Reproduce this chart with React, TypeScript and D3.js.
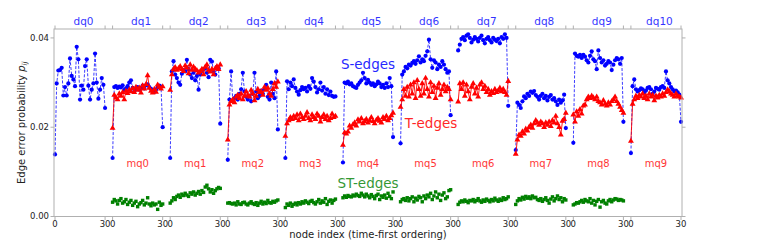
import React from 'react';
import * as d3 from 'd3';

const dqLabels = ['dq0', 'dq1', 'dq2', 'dq3', 'dq4', 'dq5', 'dq6', 'dq7', 'dq8', 'dq9', 'dq10'];
const mqLabels = ['mq0', 'mq1', 'mq2', 'mq3', 'mq4', 'mq5', 'mq6', 'mq7', 'mq8', 'mq9'];
const yTicks = [0, 0.02, 0.04];
const yTickLabels = ['0.00', '0.02', '0.04'];
const segStartLabel = '0';
const segEndLabel = '30';
const SEG_LEN = 30;
const SEG_PERIOD = 34.5;
const T_FIRST_SEG = 1;
const ST_FIRST_SEG = 1;

// S-edges (blue), one array per dq segment
const sEdges: number[][] = [
  [0.0139, 0.0298, 0.0327, 0.0328, 0.0333, 0.0271, 0.0290, 0.0271, 0.0298, 0.0354, 0.0315, 0.0307, 0.0292, 0.0380, 0.0352, 0.0262, 0.0293, 0.0284, 0.0337, 0.0352, 0.0293, 0.0262, 0.0284, 0.0298, 0.0365, 0.0300, 0.0264, 0.0284, 0.0310, 0.0295, 0.0243],
  [0.0131, 0.0290, 0.0292, 0.0288, 0.0291, 0.0289, 0.0294, 0.0283, 0.0287, 0.0292, 0.0300, 0.0305, 0.0288, 0.0280, 0.0285, 0.0290, 0.0284, 0.0288, 0.0293, 0.0287, 0.0294, 0.0296, 0.0290, 0.0286, 0.0282, 0.0279, 0.0284, 0.0289, 0.0293, 0.0291, 0.0200],
  [0.0131, 0.0325, 0.0348, 0.0318, 0.0310, 0.0300, 0.0295, 0.0320, 0.0328, 0.0325, 0.0351, 0.0330, 0.0318, 0.0310, 0.0322, 0.0305, 0.0315, 0.0284, 0.0318, 0.0326, 0.0330, 0.0332, 0.0322, 0.0312, 0.0351, 0.0347, 0.0325, 0.0318, 0.0335, 0.0332, 0.0208],
  [0.0127, 0.0262, 0.0325, 0.0259, 0.0265, 0.0270, 0.0262, 0.0275, 0.0285, 0.0322, 0.0280, 0.0268, 0.0262, 0.0270, 0.0258, 0.0275, 0.0322, 0.0280, 0.0265, 0.0270, 0.0282, 0.0275, 0.0285, 0.0295, 0.0268, 0.0262, 0.0300, 0.0275, 0.0265, 0.0325, 0.0195],
  [0.0131, 0.0303, 0.0285, 0.0300, 0.0292, 0.0307, 0.0288, 0.0280, 0.0273, 0.0283, 0.0290, 0.0285, 0.0288, 0.0280, 0.0292, 0.0286, 0.0310, 0.0302, 0.0290, 0.0278, 0.0285, 0.0300, 0.0282, 0.0290, 0.0275, 0.0285, 0.0272, 0.0280, 0.0270, 0.0268, 0.0269],
  [0.0121, 0.0300, 0.0298, 0.0302, 0.0296, 0.0298, 0.0292, 0.0290, 0.0288, 0.0295, 0.0300, 0.0305, 0.0322, 0.0310, 0.0298, 0.0306, 0.0300, 0.0295, 0.0298, 0.0292, 0.0296, 0.0302, 0.0298, 0.0290, 0.0295, 0.0288, 0.0298, 0.0290, 0.0310, 0.0292, 0.0178],
  [0.0164, 0.0318, 0.0325, 0.0335, 0.0332, 0.0340, 0.0338, 0.0344, 0.0348, 0.0342, 0.0350, 0.0359, 0.0345, 0.0352, 0.0348, 0.0360, 0.0370, 0.0396, 0.0352, 0.0333, 0.0350, 0.0345, 0.0330, 0.0340, 0.0335, 0.0348, 0.0340, 0.0330, 0.0322, 0.0325, 0.0227],
  [0.0372, 0.0385, 0.0398, 0.0402, 0.0395, 0.0405, 0.0408, 0.0400, 0.0390, 0.0396, 0.0402, 0.0398, 0.0392, 0.0400, 0.0405, 0.0395, 0.0388, 0.0398, 0.0402, 0.0395, 0.0390, 0.0400, 0.0396, 0.0393, 0.0398, 0.0388, 0.0402, 0.0398, 0.0408, 0.0400, 0.0248],
  [0.0149, 0.0255, 0.0250, 0.0243, 0.0258, 0.0269, 0.0265, 0.0275, 0.0270, 0.0280, 0.0277, 0.0281, 0.0272, 0.0268, 0.0262, 0.0270, 0.0275, 0.0265, 0.0270, 0.0260, 0.0268, 0.0272, 0.0262, 0.0265, 0.0258, 0.0250, 0.0262, 0.0255, 0.0260, 0.0273, 0.0198],
  [0.0165, 0.0365, 0.0360, 0.0358, 0.0362, 0.0355, 0.0362, 0.0358, 0.0350, 0.0345, 0.0360, 0.0370, 0.0352, 0.0348, 0.0330, 0.0372, 0.0355, 0.0345, 0.0350, 0.0338, 0.0342, 0.0348, 0.0345, 0.0328, 0.0340, 0.0350, 0.0355, 0.0352, 0.0342, 0.0355, 0.0212],
  [0.0142, 0.0292, 0.0307, 0.0285, 0.0280, 0.0283, 0.0287, 0.0285, 0.0278, 0.0282, 0.0288, 0.0290, 0.0285, 0.0275, 0.0280, 0.0288, 0.0286, 0.0284, 0.0290, 0.0292, 0.0288, 0.0325, 0.0305, 0.0298, 0.0290, 0.0285, 0.0280, 0.0282, 0.0278, 0.0273, 0.0212],
];

// T-edges (red), mq0..mq9 drawn in segments 1..10
const tEdges: number[][] = [
  [0.0198, 0.0272, 0.0266, 0.0262, 0.0275, 0.0270, 0.0278, 0.0262, 0.0281, 0.0276, 0.0284, 0.0280, 0.0287, 0.0278, 0.0290, 0.0283, 0.0288, 0.0277, 0.0293, 0.0286, 0.0296, 0.0316, 0.0288, 0.0281, 0.0277, 0.0285, 0.0279, 0.0295, 0.0290, 0.0286, 0.0291],
  [0.0283, 0.0318, 0.0330, 0.0334, 0.0328, 0.0332, 0.0336, 0.0330, 0.0325, 0.0338, 0.0333, 0.0320, 0.0340, 0.0328, 0.0335, 0.0330, 0.0327, 0.0322, 0.0325, 0.0330, 0.0318, 0.0335, 0.0340, 0.0328, 0.0324, 0.0330, 0.0318, 0.0332, 0.0336, 0.0330, 0.0340],
  [0.0172, 0.0250, 0.0258, 0.0262, 0.0255, 0.0268, 0.0272, 0.0265, 0.0275, 0.0262, 0.0270, 0.0280, 0.0272, 0.0268, 0.0283, 0.0275, 0.0260, 0.0270, 0.0285, 0.0278, 0.0280, 0.0272, 0.0290, 0.0283, 0.0288, 0.0275, 0.0270, 0.0285, 0.0298, 0.0290, 0.0302],
  [0.0180, 0.0208, 0.0215, 0.0222, 0.0218, 0.0225, 0.0220, 0.0228, 0.0215, 0.0230, 0.0222, 0.0218, 0.0225, 0.0233, 0.0220, 0.0215, 0.0228, 0.0222, 0.0218, 0.0230, 0.0225, 0.0212, 0.0222, 0.0228, 0.0218, 0.0225, 0.0215, 0.0220, 0.0230, 0.0222, 0.0225],
  [0.0160, 0.0188, 0.0185, 0.0190, 0.0203, 0.0198, 0.0206, 0.0210, 0.0203, 0.0217, 0.0212, 0.0220, 0.0208, 0.0213, 0.0218, 0.0210, 0.0215, 0.0222, 0.0213, 0.0208, 0.0216, 0.0220, 0.0214, 0.0210, 0.0222, 0.0218, 0.0225, 0.0215, 0.0220, 0.0226, 0.0232],
  [0.0245, 0.0262, 0.0285, 0.0270, 0.0290, 0.0268, 0.0295, 0.0275, 0.0300, 0.0265, 0.0305, 0.0285, 0.0270, 0.0298, 0.0275, 0.0310, 0.0285, 0.0268, 0.0300, 0.0278, 0.0292, 0.0265, 0.0288, 0.0298, 0.0272, 0.0285, 0.0295, 0.0280, 0.0290, 0.0285, 0.0262],
  [0.0257, 0.0298, 0.0285, 0.0300, 0.0270, 0.0295, 0.0280, 0.0262, 0.0290, 0.0298, 0.0275, 0.0288, 0.0268, 0.0295, 0.0300, 0.0285, 0.0292, 0.0278, 0.0285, 0.0272, 0.0280, 0.0276, 0.0285, 0.0278, 0.0282, 0.0288, 0.0280, 0.0285, 0.0278, 0.0272, 0.0303],
  [0.0140, 0.0172, 0.0183, 0.0180, 0.0190, 0.0185, 0.0196, 0.0192, 0.0200, 0.0205, 0.0198, 0.0208, 0.0215, 0.0210, 0.0205, 0.0212, 0.0208, 0.0200, 0.0210, 0.0205, 0.0212, 0.0202, 0.0215, 0.0210, 0.0225, 0.0208, 0.0200, 0.0183, 0.0214, 0.0218, 0.0232],
  [0.0228, 0.0212, 0.0235, 0.0225, 0.0240, 0.0230, 0.0248, 0.0250, 0.0262, 0.0268, 0.0265, 0.0270, 0.0266, 0.0262, 0.0268, 0.0258, 0.0255, 0.0250, 0.0260, 0.0252, 0.0248, 0.0255, 0.0250, 0.0258, 0.0262, 0.0268, 0.0258, 0.0252, 0.0245, 0.0238, 0.0232],
  [0.0169, 0.0252, 0.0262, 0.0270, 0.0265, 0.0272, 0.0268, 0.0275, 0.0265, 0.0270, 0.0262, 0.0275, 0.0268, 0.0272, 0.0260, 0.0270, 0.0266, 0.0272, 0.0268, 0.0275, 0.0270, 0.0278, 0.0284, 0.0280, 0.0275, 0.0272, 0.0268, 0.0275, 0.0270, 0.0268, 0.0266],
];

// ST-edges (green), drawn in segments 1..9
const stEdges: number[][] = [
  [0.0032, 0.0038, 0.0035, 0.0028, 0.0036, 0.0040, 0.0030, 0.0033, 0.0038, 0.0027, 0.0032, 0.0036, 0.0025, 0.0030, 0.0034, 0.0022, 0.0028, 0.0031, 0.0036, 0.0026, 0.0030, 0.0042, 0.0028, 0.0024, 0.0030, 0.0026, 0.0028, 0.0016, 0.0032, 0.0025, 0.0028],
  [0.0030, 0.0035, 0.0042, 0.0038, 0.0045, 0.0048, 0.0043, 0.0050, 0.0047, 0.0052, 0.0048, 0.0045, 0.0053, 0.0050, 0.0055, 0.0048, 0.0052, 0.0056, 0.0050, 0.0058, 0.0054, 0.0066, 0.0070, 0.0062, 0.0055, 0.0060, 0.0052, 0.0058, 0.0062, 0.0065, 0.0063],
  [0.0030, 0.0031, 0.0029, 0.0028, 0.0030, 0.0026, 0.0033, 0.0028, 0.0027, 0.0031, 0.0032, 0.0028, 0.0026, 0.0030, 0.0033, 0.0029, 0.0027, 0.0031, 0.0025, 0.0030, 0.0034, 0.0028, 0.0032, 0.0029, 0.0036, 0.0031, 0.0030, 0.0034, 0.0032, 0.0035, 0.0037],
  [0.0020, 0.0028, 0.0025, 0.0030, 0.0023, 0.0027, 0.0030, 0.0026, 0.0031, 0.0028, 0.0033, 0.0030, 0.0035, 0.0032, 0.0029, 0.0034, 0.0036, 0.0031, 0.0028, 0.0033, 0.0038, 0.0030, 0.0035, 0.0032, 0.0040, 0.0027, 0.0034, 0.0037, 0.0030, 0.0036, 0.0039],
  [0.0042, 0.0046, 0.0043, 0.0047, 0.0045, 0.0044, 0.0048, 0.0046, 0.0050, 0.0047, 0.0045, 0.0052, 0.0048, 0.0044, 0.0050, 0.0046, 0.0042, 0.0049, 0.0045, 0.0040, 0.0047, 0.0050, 0.0038, 0.0046, 0.0043, 0.0048, 0.0041, 0.0052, 0.0045, 0.0040, 0.0055],
  [0.0033, 0.0038, 0.0040, 0.0036, 0.0042, 0.0035, 0.0040, 0.0044, 0.0033, 0.0041, 0.0037, 0.0045, 0.0042, 0.0033, 0.0046, 0.0040, 0.0048, 0.0044, 0.0052, 0.0038, 0.0046, 0.0055, 0.0042, 0.0050, 0.0036, 0.0048, 0.0053, 0.0040, 0.0044, 0.0058, 0.0060],
  [0.0027, 0.0032, 0.0035, 0.0033, 0.0037, 0.0034, 0.0031, 0.0036, 0.0035, 0.0038, 0.0033, 0.0036, 0.0040, 0.0035, 0.0032, 0.0037, 0.0034, 0.0039, 0.0036, 0.0033, 0.0038, 0.0035, 0.0041, 0.0037, 0.0034, 0.0039, 0.0036, 0.0042, 0.0038, 0.0040, 0.0044],
  [0.0027, 0.0035, 0.0040, 0.0037, 0.0043, 0.0039, 0.0045, 0.0041, 0.0044, 0.0040, 0.0046, 0.0042, 0.0043, 0.0038, 0.0036, 0.0040, 0.0034, 0.0038, 0.0042, 0.0036, 0.0030, 0.0039, 0.0044, 0.0035, 0.0040, 0.0046, 0.0038, 0.0042, 0.0033, 0.0040, 0.0037],
  [0.0026, 0.0028, 0.0031, 0.0030, 0.0033, 0.0036, 0.0032, 0.0038, 0.0035, 0.0033, 0.0040, 0.0030, 0.0036, 0.0026, 0.0034, 0.0038, 0.0021, 0.0033, 0.0036, 0.0030, 0.0028, 0.0035, 0.0038, 0.0033, 0.0037, 0.0040, 0.0039, 0.0036, 0.0038, 0.0037, 0.0035],
];

const BLUE = '#0000ff';
const RED = '#ff0000';
const GREEN = '#008000';
const SPINE = '#b0b0b0';
const FONT = 'DejaVu Sans, sans-serif';

export default function App() {
  const W = 763;
  const H = 242;
  const left = 54;
  const right = 682;
  const top = 29;
  const bottom = 216.5;
  const nSeg = dqLabels.length;
  const xMax = (nSeg - 1) * SEG_PERIOD + SEG_LEN;
  const x = d3.scaleLinear().domain([0, xMax]).range([left + 1, right - 1]);
  const y = d3.scaleLinear().domain([0, 0.042]).range([bottom, top]);

  const pts = (vals: number[], seg: number) =>
    vals.map((v, i) => [x(seg * SEG_PERIOD + (i * SEG_LEN) / (vals.length - 1)), y(v)] as [number, number]);
  const line = d3.line<[number, number]>().x((d) => d[0]).y((d) => d[1]);
  const tri = d3.symbol(d3.symbolTriangle, 15)() as string;

  const segStarts = d3.range(nSeg).map((k) => x(k * SEG_PERIOD));
  const segEnds = d3.range(nSeg).map((k) => x(k * SEG_PERIOD + SEG_LEN));
  const segCenters = d3.range(nSeg).map((k) => x(k * SEG_PERIOD + SEG_LEN / 2));

  return (
    <svg width={W} height={H} style={{ position: 'absolute', left: 0, top: 0, background: '#fff' }} fontFamily={FONT}>
      {/* blue S-edges */}
      {sEdges.map((vals, k) => {
        const p = pts(vals, k);
        return (
          <g key={'s' + k}>
            <path d={line(p) || ''} fill="none" stroke={BLUE} strokeWidth={0.9} strokeDasharray="3,1.6" opacity={0.85} />
            {p.map((d, i) => (
              <circle key={i} cx={d[0]} cy={d[1]} r={2.1} fill={BLUE} />
            ))}
          </g>
        );
      })}
      {/* red T-edges */}
      {tEdges.map((vals, j) => {
        const p = pts(vals, j + T_FIRST_SEG);
        return (
          <g key={'t' + j}>
            <path d={line(p) || ''} fill="none" stroke={RED} strokeWidth={0.9} />
            {p.map((d, i) => (
              <path key={i} d={tri} transform={`translate(${d[0]},${d[1]})`} fill={RED} />
            ))}
          </g>
        );
      })}
      {/* green ST-edges */}
      {stEdges.map((vals, j) => {
        const p = pts(vals, j + ST_FIRST_SEG);
        return (
          <g key={'st' + j}>
            {p.map((d, i) => (
              <rect key={i} x={d[0] - 1.7} y={d[1] - 1.7} width={3.4} height={3.4} fill={GREEN} />
            ))}
          </g>
        );
      })}

      {/* spines */}
      <rect x={left} y={top} width={right - left} height={bottom - top} fill="none" stroke={SPINE} strokeWidth={1} />

      {/* y ticks */}
      {yTicks.map((t, i) => (
        <g key={'yt' + i}>
          <line x1={left - 3.5} x2={left} y1={y(t)} y2={y(t)} stroke={SPINE} />
          <line x1={right} x2={right + 3.5} y1={y(t)} y2={y(t)} stroke={SPINE} />
          <text x={left - 5} y={y(t)} dy="0.35em" textAnchor="end" fontSize={8.5} fill="#222">
            {yTickLabels[i]}
          </text>
        </g>
      ))}

      {/* x ticks top and bottom at segment starts/ends */}
      {segStarts.map((sx, k) => (
        <g key={'xs' + k}>
          <line x1={sx} x2={sx} y1={bottom} y2={bottom + 3.5} stroke={SPINE} />
          <line x1={sx} x2={sx} y1={top - 3.5} y2={top} stroke={SPINE} />
          <text x={sx} y={226.5} textAnchor="middle" fontSize={8.5} fill="#222">
            {segStartLabel}
          </text>
        </g>
      ))}
      {segEnds.map((ex, k) => (
        <g key={'xe' + k}>
          <line x1={ex} x2={ex} y1={bottom} y2={bottom + 3.5} stroke={SPINE} />
          <line x1={ex} x2={ex} y1={top - 3.5} y2={top} stroke={SPINE} />
          <text x={ex} y={226.5} textAnchor="middle" fontSize={8.5} fill="#222">
            {segEndLabel}
          </text>
        </g>
      ))}

      {/* dq labels */}
      {dqLabels.map((lab, k) => (
        <text key={lab} x={segCenters[k] + 3.5} y={25} textAnchor="middle" fontSize={10.5} fill={BLUE} opacity={0.8}>
          {lab}
        </text>
      ))}
      {/* mq labels */}
      {mqLabels.map((lab, j) => (
        <text key={lab} x={segCenters[j + T_FIRST_SEG]} y={166.5} textAnchor="middle" fontSize={10} fill={RED} opacity={0.8}>
          {lab}
        </text>
      ))}

      {/* series labels */}
      <text x={368} y={69} textAnchor="middle" fontSize={13.5} fill={BLUE} opacity={0.85}>S-edges</text>
      <text x={431} y={127.5} textAnchor="middle" fontSize={13.5} fill={RED} opacity={0.85}>T-edges</text>
      <text x={368} y={188} textAnchor="middle" fontSize={13.5} fill={GREEN} opacity={0.8}>ST-edges</text>

      {/* axis labels */}
      <text x={(left + right) / 2} y={238} textAnchor="middle" fontSize={10} fill="#222">
        node index (time-first ordering)
      </text>
      <text transform={`translate(24.5,${(top + bottom) / 2}) rotate(-90)`} textAnchor="middle" fontSize={10} fill="#222">
        Edge error probability <tspan fontStyle="italic">p</tspan>
        <tspan fontStyle="italic" fontSize={7} dy={2.5}>ij</tspan>
      </text>
    </svg>
  );
}
